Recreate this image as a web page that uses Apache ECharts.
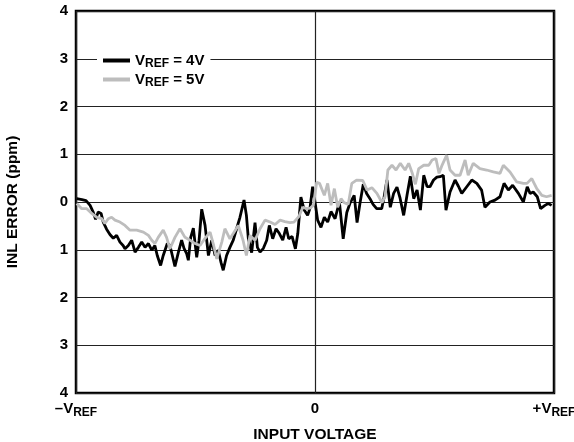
<!DOCTYPE html>
<html><head><meta charset="utf-8">
<script src="https://cdn.jsdelivr.net/npm/echarts@6/dist/echarts.min.js"></script>
<style>html,body{margin:0;padding:0;background:#fff}#c{width:574px;height:442px}</style>
</head><body><div id="c"></div>
<script>
// x: input voltage in % of VREF ; y: INL error in ppm
const vref4X = [-99.7,-97.5,-95.8,-94.1,-92.9,-91.8,-90.7,-89.5,-88.6,-87.2,-85.8,-84.4,-83.0,-81.6,-80.3,-79.5,-78.1,-76.7,-75.3,-73.9,-72.5,-71.1,-69.7,-68.3,-67.0,-66.0,-64.6,-63.5,-61.8,-60.7,-58.6,-57.2,-55.8,-54.8,-53.7,-53.0,-52.0,-50.9,-49.5,-48.5,-47.4,-46.0,-44.6,-43.2,-41.8,-40.5,-39.3,-38.4,-37.0,-35.6,-34.2,-32.8,-31.4,-29.7,-28.7,-27.9,-26.5,-25.1,-24.1,-23.0,-21.6,-20.2,-19.1,-17.7,-16.3,-14.9,-13.5,-12.1,-11.0,-9.6,-8.2,-7.2,-5.9,-4.5,-3.1,-2.1,-1.0,0.1,1.1,2.5,3.9,5.3,6.7,8.4,10.2,11.8,13.3,14.6,16.4,17.6,18.8,20.2,21.6,23.0,24.3,25.8,27.9,28.9,30.1,31.5,32.9,34.3,35.6,37.1,38.5,39.9,41.3,42.7,44.1,45.5,46.9,48.1,49.6,51.0,52.3,53.7,54.8,56.5,58.6,60.0,61.4,63.5,65.6,67.7,69.7,71.1,73.2,75.3,77.4,79.1,80.9,82.7,85.1,87.2,88.8,90.0,91.3,93.0,94.4,96.2,97.6,99.0];
const vref4Y = [0.07,0.05,0.03,-0.07,-0.2,-0.36,-0.21,-0.24,-0.42,-0.57,-0.68,-0.76,-0.70,-0.84,-0.91,-0.98,-0.91,-0.80,-1.05,-0.95,-0.84,-0.95,-0.87,-1.01,-0.91,-1.12,-1.33,-1.12,-0.87,-0.91,-1.35,-1.06,-0.80,-0.97,-1.08,-1.22,-0.74,-0.55,-1.16,-0.80,-0.15,-0.49,-1.12,-0.80,-1.12,-1.01,-1.27,-1.43,-1.12,-0.95,-0.80,-0.56,-0.32,0.04,-0.28,-0.76,-1.06,-0.43,-0.95,-1.05,-0.97,-0.80,-0.49,-0.77,-0.56,-0.66,-0.80,-0.53,-0.77,-0.72,-0.98,-0.66,0.10,-0.17,-0.28,-0.13,0.32,-0.03,-0.38,-0.53,-0.32,-0.42,-0.20,-0.35,0.00,-0.77,-0.22,-0.03,0.14,-0.43,-0.03,0.37,0.18,0.07,-0.05,-0.14,-0.14,0.10,0.46,-0.11,0.18,0.31,0.08,-0.28,0.14,0.54,0.07,0.25,-0.17,0.56,0.32,0.32,0.46,0.52,0.53,0.56,-0.17,0.21,0.46,0.33,0.18,0.32,0.46,0.39,0.25,-0.11,0.00,0.04,0.11,0.39,0.25,0.35,0.18,0.00,0.32,0.18,0.21,0.11,-0.14,-0.07,-0.03,-0.07];
const vref5X = [-99.7,-97.6,-95.5,-93.4,-91.3,-89.2,-87.9,-86.5,-85.1,-83.7,-81.6,-79.5,-77.4,-74.6,-71.8,-69.7,-68.3,-67.0,-65.6,-63.5,-62.1,-60.7,-58.6,-56.5,-54.4,-52.3,-50.2,-48.1,-46.0,-43.9,-42.6,-41.1,-39.0,-37.7,-35.6,-34.2,-32.1,-30.1,-28.7,-27.2,-25.1,-23.0,-20.9,-18.8,-16.7,-14.6,-12.6,-10.5,-8.8,-6.7,-5.1,-3.5,-2.1,-0.7,0.7,1.9,3.9,5.3,6.7,8.1,9.5,10.9,12.1,13.9,15.4,17.4,20.0,21.8,23.8,25.9,28.0,29.3,30.5,32.2,33.9,35.7,37.7,39.2,40.6,42.0,43.4,45.5,47.6,49.0,50.6,51.9,53.0,55.1,56.5,58.6,60.7,62.8,64.1,66.2,69.0,71.8,74.6,77.4,78.8,81.6,84.4,87.2,88.7,90.7,92.8,94.9,96.9,99.0];
const vref5Y = [-0.03,-0.14,-0.14,-0.24,-0.32,-0.35,-0.45,-0.35,-0.32,-0.38,-0.42,-0.49,-0.59,-0.59,-0.63,-0.70,-0.80,-0.87,-0.74,-0.59,-0.74,-0.98,-0.74,-0.56,-0.74,-0.80,-0.87,-0.91,-0.76,-0.63,-0.87,-1.19,-0.84,-0.56,-0.77,-0.66,-0.49,-0.80,-1.12,-0.70,-0.80,-0.56,-0.38,-0.42,-0.47,-0.38,-0.41,-0.43,-0.42,-0.30,-0.11,-0.14,-0.13,-0.07,0.41,0.39,0.14,0.39,-0.07,0.28,-0.11,0.07,-0.01,-0.05,0.39,0.46,0.45,0.25,0.30,0.18,-0.01,0.11,0.67,0.77,0.67,0.81,0.67,0.81,0.62,0.37,0.70,0.77,0.77,0.88,0.91,0.60,0.75,0.98,0.67,0.56,0.56,0.88,0.56,0.81,0.70,0.67,0.63,0.60,0.77,0.63,0.42,0.39,0.39,0.49,0.28,0.14,0.11,0.14];
const yTicks = [-4,-3,-2,-1,0,1,2,3,4];
const xTickLabels = {'-100':'{n|–V}{s|REF}', '0':'{n|0}', '100':'{n|+V}{s|REF}'};
const seriesNames = ['4V','5V'];

const FONT = 'Liberation Sans, Arial, sans-serif';
const zip = (xs, ys) => xs.map((x, i) => [x, ys[i]]);
const chart = echarts.init(document.getElementById('c'), null, {renderer: 'canvas'});
const rich = {
  n: {fontFamily: FONT, fontWeight: 'bold', fontSize: 15, lineHeight: 16, color: '#000'},
  s: {fontFamily: FONT, fontWeight: 'bold', fontSize: 12, lineHeight: 12, color: '#000', padding: [7, 0, 0, 0]}
};
chart.setOption({
  animation: false,
  backgroundColor: '#fff',
  grid: {left: 76, right: 20, top: 11, bottom: 49, outerBoundsMode: 'none', containLabel: false,
         show: true, borderColor: '#000', borderWidth: 2.5, backgroundColor: 'transparent'},
  legend: {
    left: 97, top: 50, orient: 'vertical', itemGap: 0,
    backgroundColor: '#fff', padding: [1, 6, 1, 6],
    itemWidth: 27, itemHeight: 4, icon: 'rect',
    data: [{name: seriesNames[0]}, {name: seriesNames[1]}],
    formatter: n => '{n|V}{s|REF}{n| = ' + n + '}',
    textStyle: {rich: rich}
  },
  xAxis: {
    type: 'value', min: -100, max: 100, interval: 100,
    name: 'INPUT VOLTAGE', nameLocation: 'middle', nameGap: 34,
    nameTextStyle: {fontFamily: FONT, fontWeight: 'bold', fontSize: 15.5, color: '#000'},
    axisLine: {show: false}, axisTick: {show: false},
    axisLabel: {margin: 8, formatter: v => xTickLabels[String(v)] || '', rich: rich},
    splitLine: {show: true, lineStyle: {color: '#222', width: 1.2}}
  },
  yAxis: {
    type: 'value', min: yTicks[0], max: yTicks[yTicks.length - 1], interval: 1,
    name: 'INL ERROR (ppm)', nameLocation: 'middle', nameGap: 55,
    nameTextStyle: {fontFamily: FONT, fontWeight: 'bold', fontSize: 15.5, color: '#000'},
    axisLine: {show: false}, axisTick: {show: false},
    axisLabel: {margin: 8, formatter: v => String(Math.abs(v)), fontFamily: FONT, fontWeight: 'bold', fontSize: 15, color: '#000'},
    splitLine: {show: true, lineStyle: {color: '#222', width: 1.2}}
  },
  series: [
    {name: seriesNames[0], type: 'line', data: zip(vref4X, vref4Y), showSymbol: false, symbol: 'none', color: '#000', lineStyle: {color: '#000', width: 2.8}, z: 3},
    {name: seriesNames[1], type: 'line', data: zip(vref5X, vref5Y), showSymbol: false, symbol: 'none', color: '#bdbdbd', lineStyle: {color: '#bdbdbd', width: 2.8}, z: 4}
  ]
});
</script></body></html>
